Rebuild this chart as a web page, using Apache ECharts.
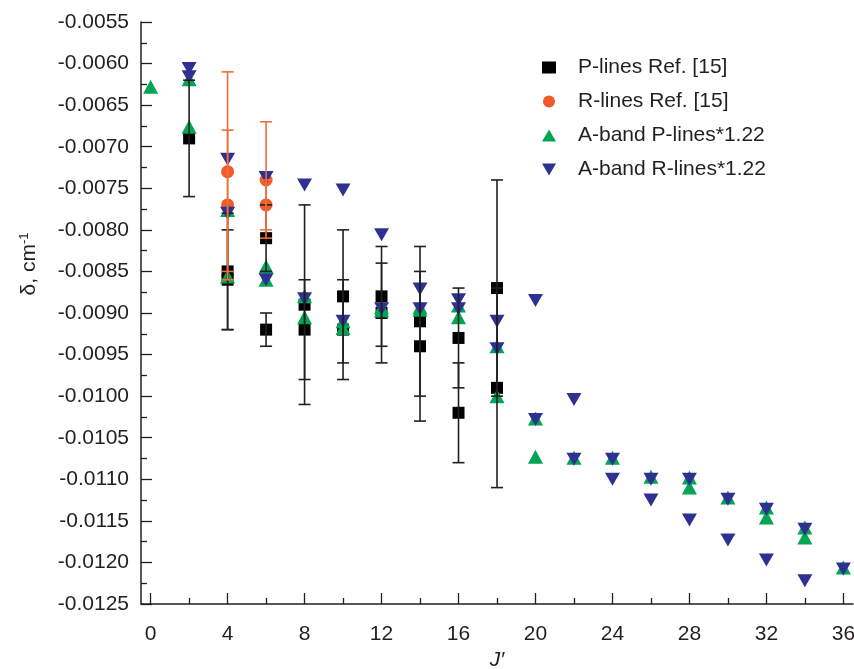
<!DOCTYPE html>
<html>
<head>
<meta charset="utf-8">
<script src="https://cdn.jsdelivr.net/npm/echarts@6/dist/echarts.min.js"></script>
<style>
  html, body { margin: 0; padding: 0; background: #fff; }
  #chart { width: 854px; height: 669px; }
</style>
</head>
<body>
<div id="chart"></div>
<script>
// tick labels of the J' axis
var jTicks = [0, 4, 8, 12, 16, 20, 24, 28, 32, 36];
var jMinor = [2, 6, 10, 14, 18, 22, 26, 30, 34];

// P-lines Ref. [15] (with error bars)
var pRefJ = [2, 4, 4, 6, 6, 8, 8, 10, 10, 12, 12, 14, 14, 16, 16, 18, 18];
var pRefVal = [-0.0069, -0.0085, -0.0086, -0.0081, -0.0092, -0.0089, -0.0092, -0.0088, -0.0092,
    -0.0088, -0.0090, -0.0091, -0.0094, -0.0093, -0.0102, -0.0087, -0.0099];
var pRefErr = [0.0007, 0.0007, 0.0006, 0.0004, 0.0002, 0.0012, 0.0006, 0.0008, 0.0006,
    0.0006, 0.0006, 0.0009, 0.0009, 0.0006, 0.0006, 0.0013, 0.0012];

// R-lines Ref. [15] (with error bars)
var rRefJ = [4, 4, 6, 6];
var rRefVal = [-0.0073, -0.0077, -0.0074, -0.0077];
var rRefErr = [0.0012, 0.0009, 0.0007, 0.0003];

// A-band P-lines*1.22
var aPJ = [0, 2, 2, 4, 4, 6, 6, 8, 8, 10, 10, 12, 12, 14, 14, 16, 16, 18, 18,
    20, 20, 22, 24, 26, 28, 28, 30, 32, 32, 34, 34, 36];
var aPVal = [-0.00628, -0.00619, -0.00676, -0.00776, -0.00856, -0.00844, -0.00860, -0.00880, -0.00905,
    -0.00910, -0.00918, -0.00893, -0.00897, -0.00893, -0.00896, -0.00891, -0.00905, -0.00940, -0.01000,
    -0.01027, -0.01073, -0.01074, -0.01074, -0.01097, -0.01098, -0.01110, -0.01122, -0.01134, -0.01146,
    -0.01158, -0.01170, -0.01206];

// A-band R-lines*1.22
var aRJ = [2, 2, 4, 4, 6, 6, 8, 8, 10, 10, 12, 12, 14, 14, 16, 16, 18, 18,
    20, 20, 22, 22, 24, 24, 26, 26, 28, 28, 30, 30, 32, 32, 34, 34, 36];
var aRVal = [-0.00606, -0.00616, -0.00715, -0.00780, -0.00737, -0.00860, -0.00746, -0.00883,
    -0.00752, -0.00910, -0.00806, -0.00895, -0.00871, -0.00895, -0.00884, -0.00895, -0.00910, -0.00943,
    -0.00885, -0.01028, -0.01004, -0.01076, -0.01076, -0.01100, -0.01100, -0.01125, -0.01100, -0.01149,
    -0.01124, -0.01173, -0.01136, -0.01197, -0.01160, -0.01222, -0.01208];

var FONT = "'Liberation Sans', Arial, sans-serif";
var INK = '#231f20';

function pairs(xs, ys) {
    return xs.map(function (x, i) { return [x, ys[i]]; });
}
function bars(xs, ys, es) {
    return xs.map(function (x, i) { return [x, ys[i] - es[i], ys[i] + es[i]]; });
}
// vertical error bar with caps, drawn by the custom series
function errorBar(color) {
    return function (params, api) {
        var lo = api.coord([api.value(0), api.value(1)]);
        var hi = api.coord([api.value(0), api.value(2)]);
        var h = 6;
        var st = { stroke: color, lineWidth: 1.6, fill: null };
        return {
            type: 'group',
            children: [
                { type: 'line', shape: { x1: lo[0], y1: lo[1], x2: hi[0], y2: hi[1] }, style: st },
                { type: 'line', shape: { x1: lo[0] - h, y1: lo[1], x2: lo[0] + h, y2: lo[1] }, style: st },
                { type: 'line', shape: { x1: hi[0] - h, y1: hi[1], x2: hi[0] + h, y2: hi[1] }, style: st }
            ]
        };
    };
}

var myChart = echarts.init(document.getElementById('chart'));

var option = {
    animation: false,
    textStyle: { fontFamily: FONT },
    grid: { left: 141, right: 1, top: 22, bottom: 65, outerBoundsMode: 'none' },
    legend: {
        orient: 'vertical',
        left: 537,
        top: 52,
        itemWidth: 14,
        itemHeight: 12,
        itemGap: 13,
        selectedMode: false,
        data: ['P-lines Ref. [15]', 'R-lines Ref. [15]', 'A-band P-lines*1.22', 'A-band R-lines*1.22'],
        textStyle: { fontSize: 21, lineHeight: 21, color: INK, fontFamily: FONT, padding: [0, 0, 0, 17] }
    },
    graphic: [{
        type: 'text',
        x: 29,
        y: 264,
        rotation: Math.PI / 2,
        style: {
            text: '{a|δ, cm}{s|-1}',
            align: 'center',
            verticalAlign: 'middle',
            fill: INK,
            rich: {
                a: { fontSize: 21, fontFamily: FONT, fill: INK, lineHeight: 23 },
                s: { fontSize: 13, fontFamily: FONT, fill: INK, lineHeight: 23, verticalAlign: 'top' }
            }
        }
    }],
    xAxis: [{
        type: 'value',
        position: 'bottom',
        min: -0.5,
        max: 36.5,
        name: 'J\u2032',
        nameLocation: 'middle',
        nameGap: 42,
        nameTextStyle: { fontSize: 21, fontStyle: 'italic', color: INK, fontFamily: FONT },
        splitLine: { show: false },
        axisLine: { onZero: false, lineStyle: { color: INK, width: 1.5 } },
        axisTick: { inside: true, length: 11, customValues: jTicks, lineStyle: { color: INK, width: 1.3 } },
        axisLabel: { customValues: jTicks, fontSize: 21, color: INK, margin: 20, fontFamily: FONT }
    }, {
        // minor ticks only
        type: 'value',
        position: 'bottom',
        min: -0.5,
        max: 36.5,
        splitLine: { show: false },
        axisLine: { show: false },
        axisTick: { inside: true, length: 6, customValues: jMinor, lineStyle: { color: INK, width: 1.3 } },
        axisLabel: { show: false }
    }],
    yAxis: {
        type: 'value',
        min: -0.0125,
        max: -0.0055,
        interval: 0.0005,
        splitLine: { show: false },
        axisLine: { show: true, onZero: false, lineStyle: { color: INK, width: 1.5 } },
        axisTick: { show: true, inside: true, length: 11, lineStyle: { color: INK, width: 1.3 } },
        minorTick: { show: true, splitNumber: 2, length: 6, lineStyle: { color: INK, width: 1.3 } },
        axisLabel: {
            fontSize: 21, color: INK, margin: 12, fontFamily: FONT,
            formatter: function (v) { return v.toFixed(4); }
        }
    },
    series: [{
        name: 'P-lines Ref. [15]',
        type: 'scatter',
        symbol: 'rect',
        symbolSize: 12,
        itemStyle: { color: '#000000', opacity: 1 },
        data: pairs(pRefJ, pRefVal),
        z: 2
    }, {
        name: 'R-lines Ref. [15]',
        type: 'scatter',
        symbol: 'circle',
        symbolSize: 13,
        itemStyle: { color: '#f15a29', opacity: 1 },
        data: pairs(rRefJ, rRefVal),
        z: 3
    }, {
        name: 'A-band P-lines*1.22',
        type: 'scatter',
        symbol: 'triangle',
        symbolSize: [15, 14],
        itemStyle: { color: '#00a651', opacity: 1 },
        data: pairs(aPJ, aPVal),
        z: 4
    }, {
        name: 'A-band R-lines*1.22',
        type: 'scatter',
        symbol: 'path://M0,0L14,0L7,12Z',
        symbolSize: [15, 13],
        itemStyle: { color: '#2e3192', opacity: 1 },
        data: pairs(aRJ, aRVal),
        z: 5
    }, {
        name: 'P err',
        type: 'custom',
        silent: true,
        renderItem: errorBar('#231f20'),
        encode: { x: 0, y: [1, 2] },
        data: bars(pRefJ, pRefVal, pRefErr),
        z: 6
    }, {
        name: 'R err',
        type: 'custom',
        silent: true,
        renderItem: errorBar('#f26b3c'),
        encode: { x: 0, y: [1, 2] },
        data: bars(rRefJ, rRefVal, rRefErr),
        z: 7
    }]
};

myChart.setOption(option);
</script>
</body>
</html>
